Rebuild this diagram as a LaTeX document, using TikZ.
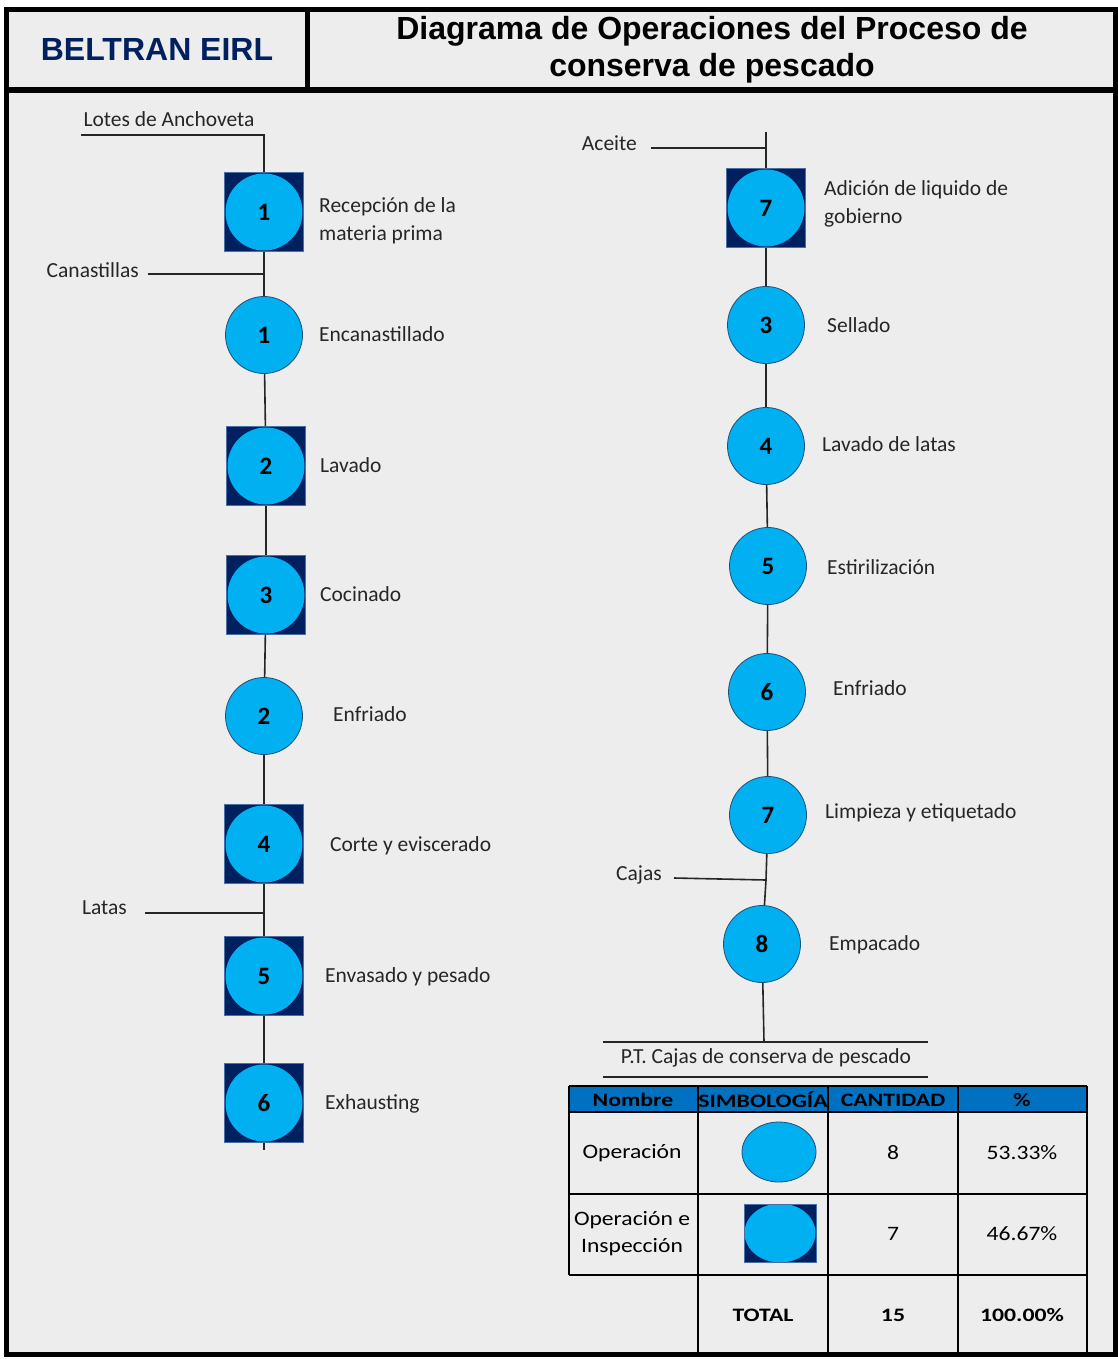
\documentclass[tikz,border=0pt]{standalone}
\usepackage{fontspec}
\usepackage{tikz}
\usetikzlibrary{shapes.geometric}
\setmainfont{Carlito}
\newfontfamily\hdfont{Liberation Sans}
\newfontfamily\tabfont{Carlito}[FakeStretch=1.15]
\newfontfamily\tabbfont{Carlito}[FakeStretch=1.25]

\definecolor{bgGrey}{HTML}{EDEDED}
\definecolor{opCyan}{HTML}{00B0F0}
\definecolor{opEdge}{HTML}{1F4E79}
\definecolor{sqNavy}{HTML}{002060}
\definecolor{sqEdge}{HTML}{4A6FA5}
\definecolor{hdBlue}{HTML}{0070C0}

\tikzset{
  oper/.style={circle, draw=opEdge, line width=0.8pt, fill=opCyan, minimum size=77pt, inner sep=0pt,
    font=\fontsize{25}{25}\selectfont\bfseries},
  opinsp/.style={rectangle, draw=sqEdge, line width=0.8pt, fill=sqNavy, minimum size=79pt, inner sep=0pt,
    font=\fontsize{25}{25}\selectfont\bfseries,
    path picture={\fill[opCyan] (path picture bounding box.center) circle[radius=38.5pt];}},
  desc/.style={anchor=west, align=left, inner sep=0pt, font=\fontsize{21.5}{28}\selectfont, text=black!85},
  inlbl/.style={inner sep=0pt, font=\fontsize{21.5}{28}\selectfont, text=black!85},
  flow/.style={line width=1.6pt, draw=black!85},
  grid/.style={line width=1.5pt},
  cell/.style={inner sep=0pt, align=center, font=\tabfont\fontsize{20.5}{27}\selectfont},
  hcell/.style={inner sep=0pt, align=center, font=\tabbfont\bfseries\fontsize{19}{20}\selectfont}
}

\begin{document}
\begin{tikzpicture}[x=1pt, y=-1pt]
\useasboundingbox (0,0) rectangle (1118,1359);
\fill[white] (0,0) rectangle (1118,1359);
\fill[bgGrey] (6,9.5) rectangle (1115.5,1354.5);

% frame and heading
\draw[line width=5pt] (6,9.5) rectangle (1115.5,1354.5);
\draw[line width=5.5pt] (6,90) -- (1115.5,90);
\draw[line width=5pt] (307.5,9.5) -- (307.5,90);
\node[font=\hdfont\bfseries\fontsize{32}{32}\selectfont, text=sqNavy] (firm) at (157,49) {BELTRAN EIRL};
\node[font=\hdfont\bfseries\fontsize{32}{37}\selectfont, align=center] (title) at (712,50)
  {Diagrama de Operaciones del Proceso de\\conserva de pescado};

% left column
\coordinate (lotesEnd) at (81,135);
\coordinate (lotesJ) at (264,135);
\node[inlbl] (tLotes) at (169,119) {Lotes de Anchoveta};
\node[opinsp] (q1) at (264,212) {1};
\node[desc] (d1) at (319,221) {Recepción de la\\materia prima};
\coordinate (canEnd) at (148,274);
\coordinate (canJ) at (264,274);
\node[inlbl, anchor=east] (tCan) at (139,270) {Canastillas};
\node[oper] (o1) at (264,335) {1};
\node[desc] (d2) at (319,334) {Encanastillado};
\node[opinsp] (q2) at (266,466) {2};
\node[desc] (d3) at (320,465) {Lavado};
\node[opinsp] (q3) at (266,595) {3};
\node[desc] (d4) at (320,594) {Cocinado};
\node[oper] (o2) at (264,716) {2};
\node[desc] (d5) at (333,714) {Enfriado};
\node[opinsp] (q4) at (264,844) {4};
\node[desc] (d6) at (330,846) {Corte y eviscerado};
\coordinate (latEnd) at (145,913);
\coordinate (latJ) at (264,913);
\node[inlbl, anchor=east] (tLat) at (127,908) {Latas};
\node[opinsp] (q5) at (264,976) {5};
\node[desc] (d7) at (325,977) {Envasado y pesado};
\node[opinsp] (q6) at (264,1103) {6};
\node[desc] (d8) at (325,1104) {Exhausting};
\coordinate (leftEnd) at (264,1150);

\draw[flow] (lotesEnd) -- (lotesJ) -- (q1);
\draw[flow] (q1) -- (canJ) -- (o1);
\draw[flow] (canEnd) -- (canJ);
\draw[flow] (o1) -- (q2);
\draw[flow] (q2) -- (q3);
\draw[flow] (q3) -- (o2);
\draw[flow] (o2) -- (q4);
\draw[flow] (q4) -- (latJ) -- (q5);
\draw[flow] (latEnd) -- (latJ);
\draw[flow] (q5) -- (q6);
\draw[flow] (q6) -- (leftEnd);

% right column
\coordinate (rightTop) at (766,132);
\coordinate (aceJ) at (766,148);
\coordinate (aceEnd) at (651,148);
\node[inlbl, anchor=east] (tAce) at (637,143) {Aceite};
\node[opinsp] (q7) at (766,208) {7};
\node[desc] (d9) at (824,204) {Adición de liquido de\\gobierno};
\node[oper] (o3) at (766,325) {3};
\node[desc] (d10) at (827,325) {Sellado};
\node[oper] (o4) at (766,446) {4};
\node[desc] (d11) at (822,444) {Lavado de latas};
\node[oper] (o5) at (768,566) {5};
\node[desc] (d12) at (827,567) {Estirilización};
\node[oper] (o6) at (767,692) {6};
\node[desc] (d13) at (833,688) {Enfriado};
\node[oper] (o7) at (768,815) {7};
\node[desc] (d14) at (825,813) {Limpieza y etiquetado};
\coordinate (cajEnd) at (674,878);
\coordinate (cajJ) at (766,880);
\node[inlbl, anchor=east] (tCaj) at (662,875) {Cajas};
\node[oper] (o8) at (762,944) {8};
\node[desc] (d15) at (829,945) {Empacado};
\coordinate (ptJ) at (764,1042);

\draw[flow] (rightTop) -- (aceJ) -- (q7);
\draw[flow] (aceEnd) -- (aceJ);
\draw[flow] (q7) -- (o3);
\draw[flow] (o3) -- (o4);
\draw[flow] (o4) -- (o5);
\draw[flow] (o5) -- (o6);
\draw[flow] (o6) -- (o7);
\draw[flow] (o7) -- (cajJ) -- (o8);
\draw[flow] (cajEnd) -- (cajJ);
\draw[flow] (o8) -- (ptJ);

% finished product
\coordinate (ptL1) at (603,1042);
\coordinate (ptR1) at (928,1042);
\coordinate (ptL2) at (603,1077);
\coordinate (ptR2) at (928,1077);
\draw[flow] (ptL1) -- (ptR1);
\draw[flow] (ptL2) -- (ptR2);
\node[inlbl] (tPT) at (766,1058) {P.T. Cajas de conserva de pescado};

% summary table
\fill[hdBlue] (569,1086) rectangle (1087,1112);
\draw[grid] (569,1086) -- (1087,1086);
\draw[grid] (569,1112) -- (1087,1112);
\draw[grid] (569,1194) -- (1087,1194);
\draw[grid] (569,1275) -- (1087,1275);
\draw[grid] (698,1354) -- (1087,1354);
\draw[grid] (569,1086) -- (569,1275);
\foreach \cx in {698,828,958,1087}
  \draw[grid] (\cx,1086) -- (\cx,1354);
\node[hcell] (hNom) at (633,1100) {Nombre};
\node[hcell] (hSim) at (763,1100) {SIMBOLOGÍA};
\node[hcell] (hCan) at (893,1100) {CANTIDAD};
\node[hcell] (hPor) at (1022,1100) {\%};
\node[cell] (cOp) at (632,1153) {Operación};
\node[ellipse, draw=opEdge, line width=0.8pt, fill=opCyan, minimum width=74pt, minimum height=60pt] (symOp) at (779,1152) {};
\node[cell] (nOp) at (893,1153) {8};
\node[cell] (pOp) at (1022,1153) {53.33\%};
\node[cell] (cOi) at (632,1234) {Operación e\\Inspección};
\node[rectangle, draw=sqEdge, line width=0.8pt, fill=sqNavy, minimum width=72pt, minimum height=58pt, inner sep=0pt,
  path picture={\fill[opCyan] (path picture bounding box.center) ellipse[x radius=35.5pt, y radius=29.5pt];}] (symOi) at (780,1233) {};
\node[cell] (nOi) at (893,1234) {7};
\node[cell] (pOi) at (1022,1234) {46.67\%};
\node[hcell] (tTot) at (763,1315) {TOTAL};
\node[hcell] (nTot) at (893,1315) {15};
\node[hcell] (pTot) at (1022,1315) {100.00\%};
\end{tikzpicture}
\end{document}
